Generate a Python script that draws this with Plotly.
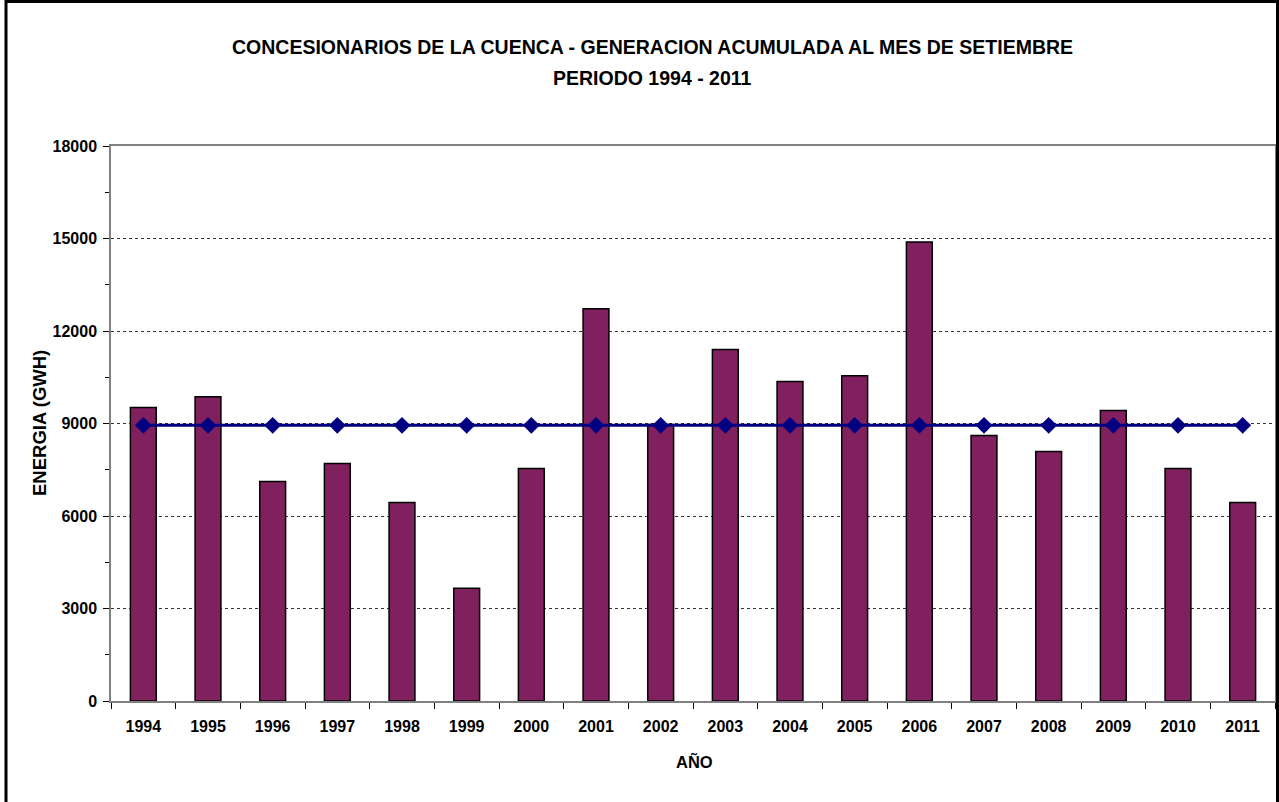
import plotly.graph_objects as go

# Generación acumulada a setiembre por año (GWh)
anios = ["1994", "1995", "1996", "1997", "1998", "1999", "2000", "2001", "2002",
         "2003", "2004", "2005", "2006", "2007", "2008", "2009", "2010", "2011"]
generacion = [9520, 9870, 7120, 7700, 6440, 3660, 7540, 12720, 8970,
              11400, 10360, 10550, 14890, 8610, 8090, 9420, 7540, 6440]
# Promedio del periodo
promedio = [8940, 8940, 8940, 8940, 8940, 8940, 8940, 8940, 8940,
            8940, 8940, 8940, 8940, 8940, 8940, 8940, 8940, 8940]

y_ticks = [0, 3000, 6000, 9000, 12000, 15000, 18000]

FONT = "Liberation Sans, Arial, sans-serif"
W, H = 1279, 802
ML, MR, MT, MB = 111, 4, 146, 101
PW, PH = W - ML - MR, H - MT - MB


def px_x(x):
    return (x - ML) / PW


def px_y(y):
    return (H - MB - y) / PH


fig = go.Figure()

fig.add_trace(go.Bar(
    x=anios, y=generacion,
    marker=dict(color="#80205F", line=dict(color="#000000", width=1.5)),
    name="Generación",
))

fig.add_trace(go.Scatter(
    x=anios, y=promedio, mode="lines+markers",
    line=dict(color="#000080", width=3),
    marker=dict(symbol="diamond", size=13, color="#000080"),
    name="Promedio",
))

fig.update_layout(
    width=W, height=H,
    margin=dict(l=ML, r=MR, t=MT, b=MB, autoexpand=False),
    paper_bgcolor="white", plot_bgcolor="white",
    showlegend=False,
    bargap=0.6,
    font=dict(family=FONT, color="#000000"),
    xaxis=dict(
        type="category",
        range=[-0.5, len(anios) - 0.5],
        showline=True, linecolor="#808080", linewidth=1.5, mirror=True,
        ticks="outside", tickson="boundaries", ticklen=6, tickcolor="#000000",
        tickfont=dict(size=16, family=FONT, weight="bold"),
        ticklabelstandoff=10,
        showgrid=False,
    ),
    yaxis=dict(
        range=[0, 18000],
        tickvals=y_ticks, ticktext=[str(v) for v in y_ticks],
        showline=True, linecolor="#808080", linewidth=1.5, mirror=True,
        ticks="outside", ticklen=6, tickcolor="#000000",
        minor=dict(dtick=1500, ticks="outside", ticklen=4, tickcolor="#000000", showgrid=False),
        tickfont=dict(size=16, family=FONT, weight="bold"),
        ticklabelstandoff=3,
        showgrid=True, gridcolor="#303030", gridwidth=1, griddash="3px,3px",
        zeroline=False,
    ),
)

# Títulos
fig.add_annotation(
    text="CONCESIONARIOS DE LA CUENCA - GENERACION ACUMULADA AL MES DE SETIEMBRE",
    xref="paper", yref="paper", x=px_x(652), y=px_y(47),
    xanchor="center", yanchor="middle", showarrow=False,
    font=dict(size=19.5, family=FONT, weight="bold"),
)
fig.add_annotation(
    text="PERIODO 1994 - 2011",
    xref="paper", yref="paper", x=px_x(652), y=px_y(78),
    xanchor="center", yanchor="middle", showarrow=False,
    font=dict(size=19.5, family=FONT, weight="bold"),
)
fig.add_annotation(
    text="ENERGIA (GWH)",
    xref="paper", yref="paper", x=px_x(39), y=px_y(423),
    xanchor="center", yanchor="middle", textangle=-90, showarrow=False,
    font=dict(size=18.5, family=FONT, weight="bold"),
)
fig.add_annotation(
    text="AÑO",
    xref="paper", yref="paper", x=px_x(694), y=px_y(761),
    xanchor="center", yanchor="middle", showarrow=False,
    font=dict(size=16.5, family=FONT, weight="bold"),
)

# Marco exterior
fig.add_shape(
    type="rect", xref="paper", yref="paper",
    x0=px_x(6), x1=px_x(1277.5), y0=px_y(806), y1=px_y(1.5),
    line=dict(color="#000000", width=3), fillcolor="rgba(0,0,0,0)",
    layer="above",
)

fig.write_html("out.html")
